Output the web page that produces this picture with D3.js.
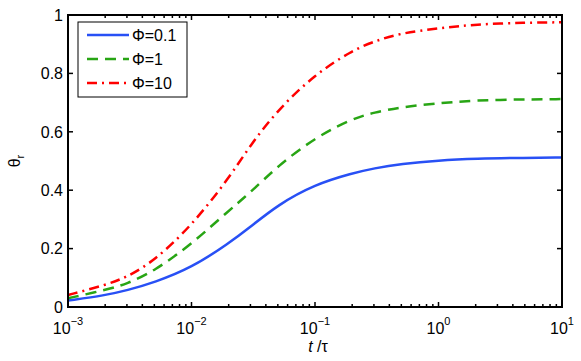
<!DOCTYPE html>
<html>
<head>
<meta charset="utf-8">
<script src="https://cdn.jsdelivr.net/npm/d3@7"></script>
<style>
  body { margin: 0; background: #fff; }
  svg { display: block; }
</style>
</head>
<body>
<div id="chart"></div>
<script>
// time samples t/tau (log axis)
var tValues = [0.001, 0.002, 0.003, 0.005, 0.01, 0.02, 0.03, 0.05, 0.1, 0.2, 0.3, 0.5, 1, 2, 5, 10];
// theta_r for each Phi
var phi01 = [0.022, 0.040, 0.057, 0.084, 0.134, 0.218, 0.274, 0.350, 0.420, 0.458, 0.475, 0.490, 0.502, 0.508, 0.511, 0.512];
var phi1  = [0.030, 0.058, 0.079, 0.123, 0.215, 0.330, 0.392, 0.483, 0.580, 0.645, 0.666, 0.685, 0.698, 0.708, 0.711, 0.712];
var phi10 = [0.041, 0.075, 0.102, 0.158, 0.278, 0.440, 0.555, 0.675, 0.797, 0.878, 0.910, 0.938, 0.955, 0.968, 0.974, 0.975];
var seriesNames = ["\u03A6=0.1", "\u03A6=1", "\u03A6=10"];
var xTicks = [0.001, 0.01, 0.1, 1, 10];
var xTickExps = ["\u22123", "\u22122", "\u22121", "0", "1"];
var yTicks = [0, 0.2, 0.4, 0.6, 0.8, 1];
var yTickLabels = ["0", "0.2", "0.4", "0.6", "0.8", "1"];

var width = 581, height = 361;
var margin = { top: 15, right: 19, bottom: 54, left: 68 };
var w = width - margin.left - margin.right,
    h = height - margin.top - margin.bottom;
var font = "'Liberation Sans', Arial, Helvetica, sans-serif";

var styles = [
  { color: "rgb(40,80,245)", dash: null },
  { color: "rgb(40,165,20)", dash: "11,7" },
  { color: "rgb(255,0,0)", dash: "10,5,2,5" }
];
var data = [phi01, phi1, phi10].map(function (vals, i) {
  return { label: seriesNames[i], values: vals.map(function (v, j) { return { t: tValues[j], v: v }; }) };
});

var svg = d3.select("#chart").append("svg")
  .attr("width", width).attr("height", height)
  .attr("font-family", font);
var g = svg.append("g").attr("transform", "translate(" + margin.left + "," + margin.top + ")");

var x = d3.scaleLog().domain([0.001, 10]).range([0, w]);
var y = d3.scaleLinear().domain([0, 1]).range([h, 0]);

// minor ticks 2..9 per decade
var minor = [];
for (var e = -3; e < 1; e++) {
  for (var k = 2; k <= 9; k++) minor.push(k * Math.pow(10, e));
}

function tickLines(sel, vals, len, horizontal, pos) {
  sel.selectAll(null).data(vals).enter().append("line")
    .attr("x1", function (d) { return horizontal ? x(d) : pos; })
    .attr("x2", function (d) { return horizontal ? x(d) : pos + len; })
    .attr("y1", function (d) { return horizontal ? pos : y(d); })
    .attr("y2", function (d) { return horizontal ? pos + len : y(d); })
    .attr("stroke", "#000").attr("stroke-width", 1.5);
}
var ticks = g.append("g");
tickLines(ticks, xTicks, -5, true, h);
tickLines(ticks, xTicks, 5, true, 0);
tickLines(ticks, minor, -3, true, h);
tickLines(ticks, minor, 3, true, 0);
tickLines(ticks, yTicks, 5, false, 0);
tickLines(ticks, yTicks, -5, false, w);

// curves
var line = d3.line()
  .curve(d3.curveBasis)
  .x(function (d) { return x(d.t); })
  .y(function (d) { return y(d.v); });

g.append("g").selectAll("path").data(data).enter().append("path")
  .attr("d", function (d) { return line(d.values); })
  .attr("fill", "none")
  .attr("stroke", function (d, i) { return styles[i].color; })
  .attr("stroke-width", 2.5)
  .attr("stroke-dasharray", function (d, i) { return styles[i].dash; });

// frame
g.append("rect").attr("width", w).attr("height", h)
  .attr("fill", "none").attr("stroke", "#000").attr("stroke-width", 2);

// x tick labels 10^n
var xl = g.append("g").selectAll("text").data(xTicks).enter().append("text")
  .attr("x", function (d) { return x(d); })
  .attr("y", h + 27)
  .attr("text-anchor", "middle")
  .attr("font-size", 16);
xl.append("tspan").text("10");
xl.append("tspan").attr("font-size", 11).attr("dy", -9)
  .text(function (d, i) { return xTickExps[i]; });

// y tick labels
g.append("g").selectAll("text").data(yTicks).enter().append("text")
  .attr("x", -5)
  .attr("y", function (d) { return y(d); })
  .attr("dy", "0.36em")
  .attr("text-anchor", "end")
  .attr("font-size", 16)
  .text(function (d, i) { return yTickLabels[i]; });

// axis labels
var xlab = svg.append("text")
  .attr("x", 318).attr("y", 352)
  .attr("text-anchor", "middle").attr("font-size", 16);
xlab.append("tspan").attr("font-style", "italic").text("t");
xlab.append("tspan").text(" /\u03C4");

var ylab = svg.append("text")
  .attr("transform", "translate(20,161) rotate(-90)")
  .attr("text-anchor", "middle").attr("font-size", 16);
ylab.append("tspan").text("\u03B8");
ylab.append("tspan").attr("font-size", 11).attr("dy", 4).text("r");

// legend
var legend = g.append("g").attr("transform", "translate(10,7)");
legend.append("rect").attr("width", 109).attr("height", 75)
  .attr("fill", "#fff").attr("stroke", "#000").attr("stroke-width", 1);
var items = legend.selectAll("g").data(data).enter().append("g")
  .attr("transform", function (d, i) { return "translate(0," + (13 + i * 24) + ")"; });
items.append("line")
  .attr("x1", 9).attr("x2", 51).attr("y1", 0).attr("y2", 0)
  .attr("stroke", function (d, i) { return styles[i].color; })
  .attr("stroke-width", 2.5)
  .attr("stroke-dasharray", function (d, i) { return styles[i].dash; });
items.append("text")
  .attr("x", 54).attr("dy", "0.36em")
  .attr("font-size", 16)
  .text(function (d) { return d.label; });
</script>
</body>
</html>
